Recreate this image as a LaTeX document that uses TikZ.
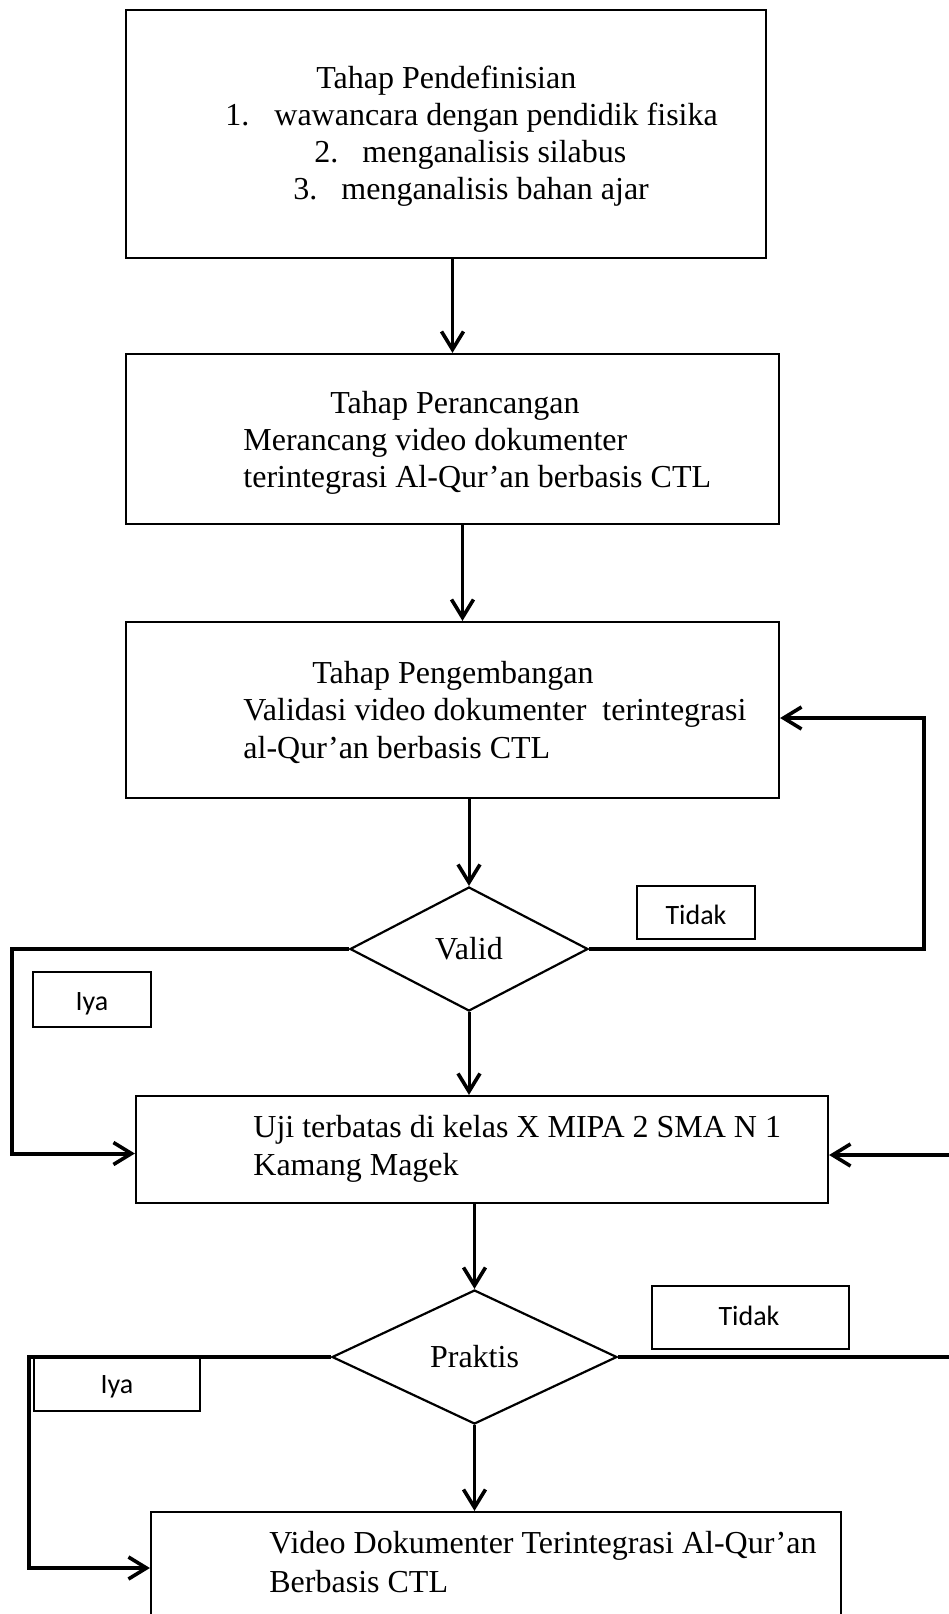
\documentclass[tikz,border=0pt]{standalone}
\usepackage{fontspec}
\setmainfont{Liberation Serif}
\newfontfamily\lblfont{Carlito}
\usetikzlibrary{arrows.meta,shapes.geometric,fit}
\begin{document}
\begin{tikzpicture}[x=0.5pt,y=-0.5pt,
  box/.style={draw,line width=1.1pt,inner sep=0pt,rectangle},
  lblbox/.style={draw,line width=1.1pt,inner sep=0pt,rectangle},
  txt/.style={anchor=base west,inner sep=0pt,font=\fontsize{16}{19}\selectfont},
  lbl/.style={anchor=base,inner sep=0pt,font=\lblfont\fontsize{14}{17}\selectfont},
  dia/.style={draw,diamond,line width=1.1pt,inner sep=0pt,font=\fontsize{16}{19}\selectfont},
  arr/.style={line width=1.5pt,-{Straight Barb[length=9pt,width=11pt,line width=1.8pt]}},
  looparr/.style={line width=2pt,-{Straight Barb[length=9pt,width=11pt,line width=1.8pt]}},
]
\useasboundingbox (0,0) rectangle (949,1614);

% boxes
\node[box,fit={(126,10) (766,258)}] (b1) {};
\node[box,fit={(126,354) (779,524)}] (b2) {};
\node[box,fit={(126,622) (779,798)}] (b3) {};
\node[box,fit={(136,1096) (828,1203)}] (uji) {};
\node[box,fit={(151,1512) (841,1624)}] (fin) {};

% decisions
\node[dia,minimum width=119pt,minimum height=62pt] (valid) at (469,949) {Valid};
\node[dia,minimum width=142.5pt,minimum height=67pt] (praktis) at (474.5,1357) {Praktis};

% texts
\node[txt] (t1a) at (316,88) {Tahap Pendefinisian};
\node[txt] (t1b) at (225,125) {1.};
\node[txt] (t1c) at (274,125) {wawancara dengan pendidik fisika};
\node[txt] (t1d) at (314,162) {2.};
\node[txt] (t1e) at (362,162) {menganalisis silabus};
\node[txt] (t1f) at (293,199) {3.};
\node[txt] (t1g) at (341,199) {menganalisis bahan ajar};
\node[txt] (t2a) at (330,413) {Tahap Perancangan};
\node[txt] (t2b) at (243,450) {Merancang video dokumenter};
\node[txt] (t2c) at (243,487) {terintegrasi Al-Qur’an berbasis CTL};
\node[txt] (t3a) at (312,683) {Tahap Pengembangan};
\node[txt] (t3b) at (243,720) {Validasi video dokumenter\ \ terintegrasi};
\node[txt] (t3c) at (243,758) {al-Qur’an berbasis CTL};
\node[txt] (t4a) at (253,1137) {Uji terbatas di kelas X MIPA 2 SMA N 1};
\node[txt] (t4b) at (253,1175) {Kamang Magek};
\node[txt] (t5a) at (269,1553) {Video Dokumenter Terintegrasi Al-Qur’an};
\node[txt] (t5b) at (269,1592) {Berbasis CTL};

% labels
\node[lblbox,fit={(637,886) (755,939)}] (tidak1) {};
\node[lbl] (tidak1t) at (696,924) {Tidak};
\node[lblbox,fit={(33,972) (151,1027)}] (iya1) {};
\node[lbl] (iya1t) at (92,1010) {Iya};
\node[lblbox,fit={(652,1286) (849,1349)}] (tidak2) {};
\node[lbl] (tidak2t) at (749,1325) {Tidak};
\node[lblbox,fit={(34,1357) (200,1411)}] (iya2) {};
\node[lbl] (iya2t) at (117,1393) {Iya};

% connectors
\draw[arr] (b1.south -| b2.north) -- (b2.north);
\draw[arr] ([xshift=5pt]b2.south) -- ([xshift=5pt]b3.north);
\draw[arr] (b3.south -| valid.north) -- (valid.north);
\draw[arr] (valid.south) -- (valid.south |- uji.north);
\draw[arr] (praktis.north |- uji.south) -- (praktis.north);
\draw[arr] (praktis.south) -- (praktis.south |- fin.north);

\coordinate (vl) at (12,949);
\coordinate (vr) at (924,949);
\coordinate (pl) at (29,1357);
\coordinate (pr) at (975,1357);
\draw[looparr] (valid.west) -- (vl) |- ([yshift=-2pt]uji.west);
\draw[looparr] (valid.east) -- (vr) |- ([yshift=-4pt]b3.east);
\draw[looparr] (praktis.west) -- (pl) |- (fin.west);
\draw[looparr] (praktis.east) -- (pr) |- ([yshift=-2.75pt]uji.east);
\end{tikzpicture}
\end{document}
